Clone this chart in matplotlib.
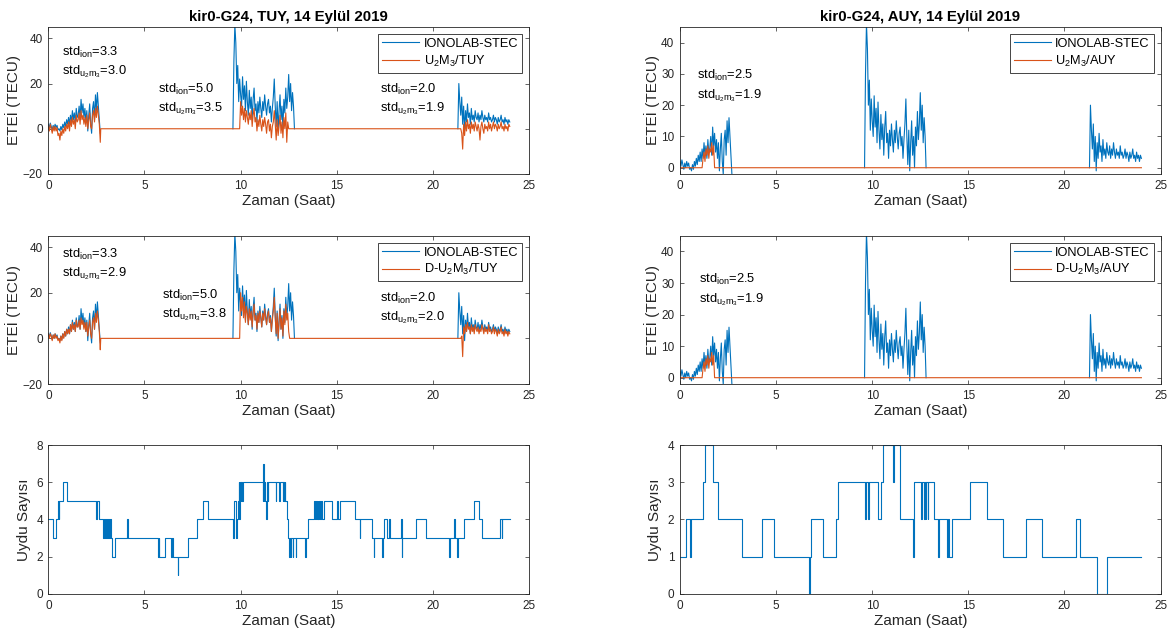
import numpy as np
import matplotlib
matplotlib.use("Agg")
import matplotlib.pyplot as plt

plt.rcParams['font.family'] = ['Liberation Sans', 'DejaVu Sans']
plt.rcParams['mathtext.default'] = 'regular'

# ---------------- data ----------------
STEP = 0.05

# IONOLAB-STEC, three visible passes (start hour, values)
ion_a_start = 0.0
ion_a = [2, 0.5, 2.5, 1, -0.5, 1.5, 0, 2, 0.5, 1.5, -0.5,
         0, -1, 1, -0.5, 2, 0.5, 3, 1, 4, 2,
         5, 2, 6, 3, 8, 4, 7, 3, 9, 5,
         6, 10, 4, 13, 7, 11, 5, 9, 3, 8,
         -1, 6, 11, 2, -2, 9, 12, 4, 15, 8, 16, 10, 4, -2]
ion_b_start = 9.6
ion_b = [0, 30, 46, 38, 20, 28, 12, 22, 15, 10, 23, 13, 19, 8, 21, 12, 6, 17, 9, 14,
         4, 13, 18, 8, 11, 3, 12, 7, 14, 9, 5, 12, 8, 15, 10, 6, 11, 13, 7, 10,
         3, 9, 14, 22, 10, 1, 12, -1, 8, 15, 4, 10, 0, 13, 7, 18, 9, 14, 24, 12,
         20, 8, 16, 10, 0]
ion_c_start = 21.3
ion_c = [0, 20, 12, 6, 14, 2, 10, -1, 8, 3, 11, 5, 7, 2, 9, 4, 6, 3, 8, 5,
         4, 7, 3, 6, 4, 8, 5, 3, 6, 4, 5, 3, 7, 4, 5, 3, 4, 6, 3, 5,
         4, 2, 5, 3, 4, 6, 3, 4, 2, 5, 3, 4, 2, 4, 3]

# U2M3 / TUY
u2m3_tuy_a = [1, -1, 2, 0, -2, 1, -1, 1, -1, 0.5, -3,
              -2, -5, -1, -3, 0, -2, 1, -1, 2, 0,
              3, -1, 4, 1, 5, 2, 4, 0, 6, 3,
              4, 7, 2, 8, 4, 6, 2, 5, 1, 6,
              0, 4, 7, 1, 0, 6, 8, 3, 9, 5, 10, 6, 2, -6]
u2m3_tuy_b = [0, 0, 0, 0, 0, 0, 0, 0,
              12, 6, 10, 4, 9, 3, 8, 5, 2, 7, 4, 8, 1, 6, 9, 3, 5, -1, 4, 1, 6, 2,
              -1, 4, 1, 5, 2, -2, 3, 4, -1, 2, -4, 1, 3, 8, 2, -5, 4, -3, 1, 6,
              -2, 3, -4, 5, 0, 7, -6, 3, 0,
              0, 0, 0, 0, 0, 0]
u2m3_tuy_c = [0, 0, 0, 0,
              -2, -9, 2, -3, 3, -1, 4, 0, 2, -2, 3, 0, 2, -1, 3, 1, -1, 2, 0, -5,
              1, 3, 0, -2, 2, 0, 1, -1, 3, 0, 2, -1, 1, 3, 0, 2, 1, -1, 2, 0,
              1, 3, 0, 1, -1, 2, 0, 1, -1, 2, 1]

# D-U2M3 / TUY
du2m3_tuy_a = [2, 0, 2, 1, -1, 1.5, 0, 2, 0, 1, -1,
               0, -2, 1, -1, 2, 0, 3, 1, 4, 2,
               4, 2, 6, 3, 7, 4, 6, 3, 8, 5,
               5, 8, 4, 9, 6, 8, 4, 7, 3, 7,
               1, 5, 8, 2, 0, 7, 9, 4, 11, 7, 12, 8, 3, -5]
du2m3_tuy_b = [0, 0, 0, 0, 0, 0, 0, 0,
               20, 12, 18, 9, 16, 7, 14, 11, 6, 13, 8, 12, 5, 11, 15, 8, 10, 4, 11, 7,
               12, 9, 5, 11, 8, 13, 9, 6, 10, 12, 7, 9, 3, 8, 12, 18, 9, 2, 11, 0,
               7, 13, 4, 9, 1, 12, 6, 15, 8, 11, 3,
               0, 0, 0, 0, 0, 0]
du2m3_tuy_c = [0, 0, 0, 0,
               1, -8, 5, 2, 6, 3, 7, 4, 5, 2, 6, 3, 5, 2, 6, 4, 3, 5, 2, 4, 3, 6,
               4, 2, 5, 3, 4, 2, 6, 3, 4, 2, 3, 5, 2, 4, 3, 1, 4, 2, 3, 5, 2, 3,
               1, 4, 2, 3, 1, 3, 2]

# U2M3 / AUY and D-U2M3 / AUY (only a short estimated stretch)
u2m3_auy_start = 1.2
u2m3_auy = [3, 5, 2, 6, 4, 7, 3, 6, 5, 8, 4, 7]
du2m3_auy = [3, 5, 2, 6, 4, 7, 3, 6, 5, 8, 4, 7]

# satellite counts (change hour, count)
sat_tuy_t = [0, 0.25, 0.42, 0.5, 0.53, 0.56, 0.75, 0.95, 2.48, 2.53, 2.63, 2.83, 2.9, 2.95, 3.0,
             3.05, 3.1, 3.15, 3.2, 3.25, 3.3, 3.48, 4.08, 4.13, 5.72, 5.76, 5.78, 6.07, 6.37,
             6.43, 6.47, 6.72, 6.76, 7.26, 7.74, 8.04, 8.31, 9.6, 9.63, 9.78, 9.82, 9.86, 9.9,
             9.93, 9.97, 10.0, 10.04, 10.08, 10.1, 11.14, 11.18, 11.2, 11.23, 11.26, 11.34,
             11.37, 11.4, 11.43, 11.83, 11.86, 12.02, 12.05, 12.18, 12.21, 12.26, 12.29, 12.32,
             12.42, 12.48, 12.53, 12.56, 12.61, 12.64, 12.71, 12.74, 12.87, 12.9, 13.36, 13.39,
             13.5, 13.8, 13.85, 13.9, 13.95, 14.0, 14.05, 14.1, 14.15, 14.2, 14.25, 14.34,
             14.77, 15.0, 15.04, 15.18, 15.95, 16.19, 16.22, 16.84, 16.92, 16.95, 17.37, 17.4,
             17.47, 17.62, 17.72, 17.75, 18.35, 18.38, 18.41, 19.1, 19.63, 20.86, 20.89,
             21.1, 21.13, 21.26, 21.29, 21.6, 22.12, 22.4, 22.53, 23.48, 23.57, 23.6, 24.0]
sat_tuy_v = [4, 3, 4, 5, 4, 5, 6, 5, 4, 5, 4, 3, 4, 3, 4,
             3, 4, 3, 4, 3, 2, 3, 4, 3, 2, 3, 2, 3, 2,
             3, 2, 1, 2, 3, 4, 5, 4, 3, 5, 3, 4, 5, 6,
             4, 6, 5, 6, 5, 6, 5, 7, 5, 6, 5, 4,
             6, 5, 6, 5, 6, 5, 6, 5, 6, 5, 6, 5,
             4, 3, 2, 3, 2, 3, 2, 3, 2, 3, 2, 3,
             4, 5, 4, 5, 4, 5, 4, 5, 4, 5, 4, 5,
             4, 5, 4, 5, 4, 3, 4, 3, 2, 3, 2, 3,
             4, 3, 4, 3, 4, 2, 3, 4, 3, 2, 3,
             4, 3, 2, 3, 4, 5, 4, 3, 4, 3, 4, 4]

sat_auy_t = [0, 0.3, 0.52, 0.56, 1.22, 1.3, 1.71, 1.98, 3.2, 4.27, 4.87, 6.72, 6.78, 6.83,
             7.42, 8.14, 8.2, 9.63, 9.66, 9.8, 9.83, 10.31, 10.47, 10.54, 11.1, 11.14, 11.42,
             11.47, 12.13, 12.17, 12.56, 12.6, 12.68, 12.72, 12.78, 12.82, 12.88, 12.92, 13.22,
             13.42, 13.46, 13.9, 13.95, 14.0, 14.14, 15.09, 15.96, 16.8, 18.0, 18.85, 20.58,
             20.83, 21.69, 22.19, 24.0]
sat_auy_v = [1, 2, 1, 2, 3, 4, 3, 2, 1, 2, 1, 0, 1, 2,
             1, 2, 3, 2, 3, 2, 3, 2, 3, 4, 3, 4, 3,
             2, 1, 3, 2, 3, 2, 3, 2, 3, 2, 3, 2,
             1, 2, 1, 2, 1, 2, 3, 2, 1, 2, 1, 2,
             1, 0, 1, 1]

BLUE = '#0072BD'
ORANGE = '#D95319'
DARK = '#262626'


def times(start, vals):
    return start + STEP * np.arange(len(vals))


def joined(segs, fill):
    ts, vs = [], []
    for i, (s, v) in enumerate(segs):
        t = times(s, v)
        ts.append(t)
        vs.append(np.asarray(v, float))
        if i < len(segs) - 1:
            ts.append(np.array([t[-1] + STEP * 0.5]))
            vs.append(np.array([fill]))
    return np.concatenate(ts), np.concatenate(vs)


t_ion, v_ion = joined([(ion_a_start, ion_a), (ion_b_start, ion_b), (ion_c_start, ion_c)], np.nan)
t_o1, v_o1 = joined([(ion_a_start, u2m3_tuy_a), (ion_b_start, u2m3_tuy_b), (ion_c_start, u2m3_tuy_c)], 0)
t_o2, v_o2 = joined([(ion_a_start, du2m3_tuy_a), (ion_b_start, du2m3_tuy_b), (ion_c_start, du2m3_tuy_c)], 0)


def auy_series(vals):
    t = times(u2m3_auy_start, vals)
    tt = np.concatenate([[0.0, u2m3_auy_start - STEP], t, [t[-1] + STEP, 24.0]])
    vv = np.concatenate([[0.0, 0.0], vals, [0.0, 0.0]])
    return tt, vv


t_o3, v_o3 = auy_series(u2m3_auy)
t_o4, v_o4 = auy_series(du2m3_auy)

fig = plt.figure(figsize=(11.74, 6.38), dpi=100)

L, W = 0.0412, 0.4094
R = 0.5792
rows = [(0.7273, 0.2304), (0.3981, 0.2325), (0.0690, 0.2335)]
LW = 0.8


def style(ax):
    ax.tick_params(direction='in', top=True, right=True, length=3, width=0.5,
                   colors=DARK, labelsize=8.5, pad=4)
    for s in ax.spines.values():
        s.set_color(DARK)
        s.set_linewidth(0.6)
    ax.set_xlim(0, 25)
    ax.set_xticks([0, 5, 10, 15, 20, 25])
    ax.set_xlabel('Zaman (Saat)', fontsize=11, color=DARK, labelpad=2)


def legend(ax, lab):
    leg = ax.legend(['IONOLAB-STEC', lab], loc='upper right', fontsize=9.2, fancybox=False,
                    edgecolor=DARK, framealpha=1, handlelength=2.9, handletextpad=0.35,
                    labelspacing=0.3, borderpad=0.3, borderaxespad=0.55)
    leg.get_frame().set_linewidth(0.6)


def annot(ax, x, y, s1, s2, dy):
    ax.text(x, y, r'std$_{ion}$=' + s1, fontsize=9.3, va='center', color='k')
    ax.text(x, y - dy, r'std$_{u_2m_3}$=' + s2, fontsize=9.3, va='center', color='k')


# ---- row 1 / 2 left ----
for r, (tv, vv, lab, anns) in enumerate([
        (t_o1, v_o1, r'U$_2$M$_3$/TUY', [(0.73, 33.7, '3.3', '3.0'), (5.68, 17.4, '5.0', '3.5'), (17.24, 17.4, '2.0', '1.9')]),
        (t_o2, v_o2, r'D-U$_2$M$_3$/TUY', [(0.73, 36.9, '3.3', '2.9'), (5.9, 18.9, '5.0', '3.8'), (17.24, 17.4, '2.0', '2.0')])]):
    ax = fig.add_axes([L, rows[r][0], W, rows[r][1]])
    ax.plot(t_ion, v_ion, color=BLUE, lw=LW)
    ax.plot(tv, vv, color=ORANGE, lw=LW)
    ax.set_ylim(-20, 45)
    ax.set_yticks([-20, 0, 20, 40])
    style(ax)
    ax.set_ylabel('ETEİ (TECU)', fontsize=11, color=DARK, labelpad=1)
    legend(ax, lab)
    for x, y, a, b in anns:
        annot(ax, x, y, a, b, 8.5)
    if r == 0:
        ax.set_title('kir0-G24, TUY, 14 Eylül 2019', fontsize=10.8, fontweight='bold', pad=4)

# ---- row 1 / 2 right ----
for r, (tv, vv, lab, ann) in enumerate([
        (t_o3, v_o3, r'U$_2$M$_3$/AUY', (0.9, 29.5, '2.5', '1.9')),
        (t_o4, v_o4, r'D-U$_2$M$_3$/AUY', (1.0, 31.1, '2.5', '1.9'))]):
    ax = fig.add_axes([R, rows[r][0], W, rows[r][1]])
    ax.plot(t_ion, v_ion, color=BLUE, lw=LW)
    ax.plot(tv, vv, color=ORANGE, lw=LW)
    ax.set_ylim(-2, 45)
    ax.set_yticks([0, 10, 20, 30, 40])
    style(ax)
    ax.set_ylabel('ETEİ (TECU)', fontsize=11, color=DARK, labelpad=1)
    legend(ax, lab)
    annot(ax, ann[0], ann[1], ann[2], ann[3], 6.4)
    if r == 0:
        ax.set_title('kir0-G24, AUY, 14 Eylül 2019', fontsize=10.8, fontweight='bold', pad=4)

# ---- row 3 ----
ax = fig.add_axes([L, rows[2][0], W, rows[2][1]])
ax.step(sat_tuy_t, sat_tuy_v, where='post', color=BLUE, lw=LW)
ax.set_ylim(0, 8)
ax.set_yticks([0, 2, 4, 6, 8])
style(ax)
ax.set_ylabel('Uydu Sayısı', fontsize=11, color=DARK, labelpad=4)

ax = fig.add_axes([R, rows[2][0], W, rows[2][1]])
ax.step(sat_auy_t, sat_auy_v, where='post', color=BLUE, lw=LW)
ax.set_ylim(0, 4)
ax.set_yticks([0, 1, 2, 3, 4])
style(ax)
ax.set_ylabel('Uydu Sayısı', fontsize=11, color=DARK, labelpad=4)

fig.savefig('out.png', dpi=100)
